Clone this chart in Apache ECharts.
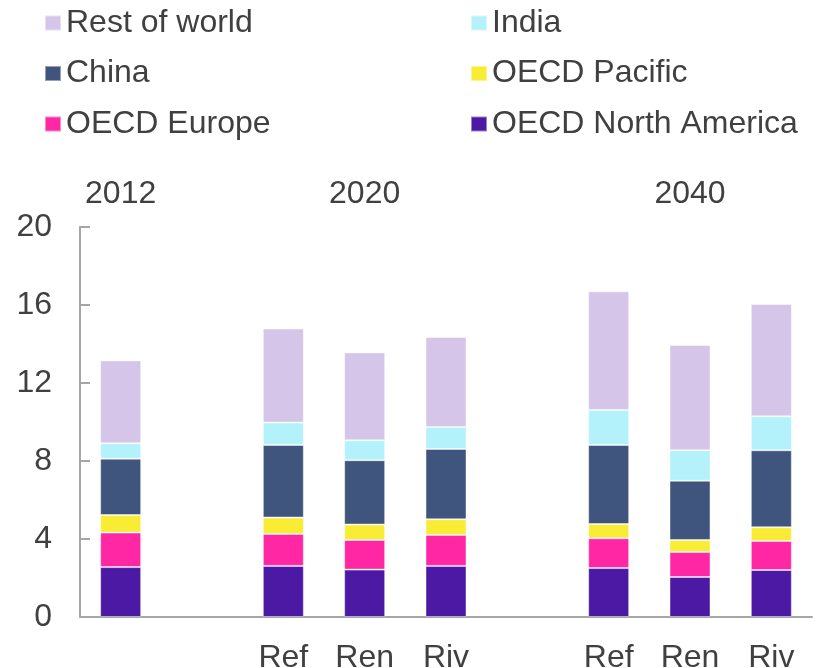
<!DOCTYPE html>
<html>
<head>
<meta charset="utf-8">
<script src="https://cdn.jsdelivr.net/npm/echarts@6/dist/echarts.min.js"></script>
<style>
html, body { margin: 0; padding: 0; background: #fff; }
#chart { width: 819px; height: 668px; }
</style>
</head>
<body>
<div id="chart"></div>
<script>
// categories: 2012 bar, gap, 2020 scenarios, gap, 2040 scenarios
const xLabels = ['', '', 'Ref', 'Ren', 'Riv', '', 'Ref', 'Ren', 'Riv'];
const yearLabels = ['2012', '', '', '2020', '', '', '', '2040', ''];
const yTicks = [0, 4, 8, 12, 16, 20];

const northAmerica = [2.56, null, 2.62, 2.43, 2.62, null, 2.51, 2.05, 2.41];
const europe = [1.77, null, 1.64, 1.52, 1.59, null, 1.53, 1.28, 1.49];
const pacific = [0.90, null, 0.84, 0.79, 0.80, null, 0.73, 0.62, 0.70];
const china = [2.89, null, 3.72, 3.30, 3.61, null, 4.05, 3.04, 3.95];
const india = [0.79, null, 1.15, 1.02, 1.12, null, 1.80, 1.56, 1.74];
const restOfWorld = [4.25, null, 4.82, 4.51, 4.62, null, 6.08, 5.40, 5.76];

const font = "'Liberation Sans', Arial, sans-serif";
const textColor = '#404040';
const axisColor = '#a6a6a6';

function barSeries(name, data, color) {
    return {
        name: name,
        type: 'bar',
        stack: 'total',
        data: data,
        barWidth: 41,
        itemStyle: {
            color: color,
            borderColor: 'rgba(255,255,255,0.45)',
            borderWidth: 1
        }
    };
}

const legendText = { fontSize: 32, fontFamily: font, color: textColor, lineHeight: 32 };

let option = {
    backgroundColor: '#fff',
    animation: false,
    legend: [{
        orient: 'vertical',
        left: 39,
        top: 2,
        itemGap: 18.5,
        itemWidth: 16,
        itemHeight: 15,
        icon: 'rect',
        textStyle: legendText,
        data: ['Rest of world', 'China', 'OECD Europe']
    }, {
        orient: 'vertical',
        left: 465,
        top: 2,
        itemGap: 18.5,
        itemWidth: 16,
        itemHeight: 15,
        icon: 'rect',
        textStyle: legendText,
        data: ['India', 'OECD Pacific', 'OECD North America']
    }],
    grid: {
        left: 80,
        right: 7,
        top: 227,
        bottom: 51,
        containLabel: false,
        outerBoundsMode: 'none'
    },
    xAxis: [{
        type: 'category',
        data: xLabels,
        axisLine: { lineStyle: { color: axisColor, width: 2 } },
        axisTick: { show: false },
        axisLabel: {
            interval: 0,
            margin: 25,
            fontSize: 32,
            fontFamily: font,
            color: textColor
        }
    }, {
        type: 'category',
        position: 'top',
        data: yearLabels,
        axisLine: { show: false },
        axisTick: { show: false },
        axisLabel: {
            interval: 0,
            margin: 17,
            fontSize: 32,
            fontFamily: font,
            color: textColor
        }
    }],
    yAxis: {
        type: 'value',
        min: yTicks[0],
        max: yTicks[yTicks.length - 1],
        interval: 4,
        axisLine: { show: true, lineStyle: { color: axisColor, width: 2 } },
        axisTick: { show: true, inside: true, length: 10, lineStyle: { color: axisColor, width: 2 } },
        splitLine: { show: false },
        axisLabel: {
            margin: 28,
            fontSize: 32,
            fontFamily: font,
            color: textColor
        }
    },
    series: [
        barSeries('OECD North America', northAmerica, '#4b19a4'),
        barSeries('OECD Europe', europe, '#ff27a4'),
        barSeries('OECD Pacific', pacific, '#f8ec35'),
        barSeries('China', china, '#40557d'),
        barSeries('India', india, '#b3f1fb'),
        barSeries('Rest of world', restOfWorld, '#d5c5e8')
    ]
};

let chart = echarts.init(document.getElementById('chart'));
chart.setOption(option);
window.addEventListener('resize', () => {
    chart.resize();
});
</script>
</body>
</html>
